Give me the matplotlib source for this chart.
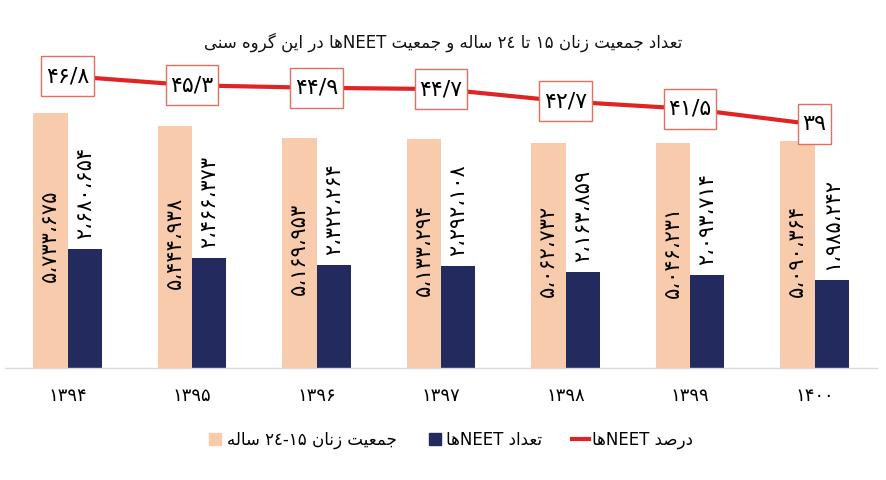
import matplotlib
matplotlib.use("Agg")
import matplotlib.pyplot as plt
from matplotlib.lines import Line2D
from matplotlib.path import Path

# ---------------- data ----------------
years = ["۱۳۹۴", "۱۳۹۵", "۱۳۹۶", "۱۳۹۷", "۱۳۹۸", "۱۳۹۹", "۱۴۰۰"]
women_15_24 = [5733675, 5444938, 5169953, 5133294, 5062732, 5046231, 5090364]
neet_count = [2680654, 2466373, 2322264, 2292108, 2163859, 2093714, 1985242]
neet_percent = [46.8, 45.3, 44.9, 44.7, 42.7, 41.5, 39]

title_text = "تعداد جمعیت زنان ۱۵ تا ۲٤ ساله و جمعیت NEETها در این گروه سنی"
label_women = "جمعیت زنان ۱۵-۲٤ ساله"
label_neet = "تعداد NEETها"
label_pct = "درصد NEETها"

# ---------------- minimal Arabic/Persian shaping ----------------
FORMS = {  # iso, fin, ini, med
    "ا": ("\uFE8D", "\uFE8E", None, None),
    "د": ("\uFEA9", "\uFEAA", None, None),
    "ر": ("\uFEAD", "\uFEAE", None, None),
    "ز": ("\uFEAF", "\uFEB0", None, None),
    "و": ("\uFEED", "\uFEEE", None, None),
    "ت": ("\uFE95", "\uFE96", "\uFE97", "\uFE98"),
    "ج": ("\uFE9D", "\uFE9E", "\uFE9F", "\uFEA0"),
    "س": ("\uFEB1", "\uFEB2", "\uFEB3", "\uFEB4"),
    "ص": ("\uFEB9", "\uFEBA", "\uFEBB", "\uFEBC"),
    "ع": ("\uFEC9", "\uFECA", "\uFECB", "\uFECC"),
    "ل": ("\uFEDD", "\uFEDE", "\uFEDF", "\uFEE0"),
    "م": ("\uFEE1", "\uFEE2", "\uFEE3", "\uFEE4"),
    "ن": ("\uFEE5", "\uFEE6", "\uFEE7", "\uFEE8"),
    "ه": ("\uFEE9", "\uFEEA", "\uFEEB", "\uFEEC"),
    "ی": ("\uFBFC", "\uFBFD", "\uFBFE", "\uFBFF"),
    "گ": ("\uFB92", "\uFB93", "\uFB94", "\uFB95"),
}


def is_dual(c):
    return c in FORMS and FORMS[c][2] is not None


def shape(s):
    out = []
    for i, c in enumerate(s):
        if c not in FORMS:
            out.append(c)
            continue
        prev = s[i - 1] if i > 0 else ""
        nxt = s[i + 1] if i + 1 < len(s) else ""
        jp = is_dual(prev)
        jn = is_dual(c) and (nxt in FORMS)
        iso, fin, ini, med = FORMS[c]
        if jp and jn:
            out.append(med)
        elif jp:
            out.append(fin)
        elif jn:
            out.append(ini)
        else:
            out.append(iso)
    return "".join(out)


def is_ltr(c):
    return (c.isascii() and c.isalnum()) or ("\u06F0" <= c <= "\u06F9") or ("\u0660" <= c <= "\u0669") or c in "/."


def rtl(s):
    sh = shape(s)
    runs = []
    for c in sh:
        l = is_ltr(c)
        if runs and runs[-1][0] == l:
            runs[-1][1].append(c)
        else:
            runs.append([l, [c]])
    vis = []
    for l, chars in reversed(runs):
        vis.append("".join(chars) if l else "".join(reversed(chars)))
    return "".join(vis)


PD = str.maketrans("0123456789", "۰۱۲۳۴۵۶۷۸۹")


def fa_int(v):
    return f"{v:,}".translate(PD).replace(",", "،")


def fa_pct(v):
    s = f"{v:g}".translate(PD)
    return s.replace(".", "/")


def tall_box(x0, y0, width, height, mutation_size):
    px = 0.2 * mutation_size
    py = 0.45 * mutation_size
    x0, y0 = x0 - px, y0 - py
    x1, y1 = x0 + width + 2 * px, y0 + height + 2 * py
    return Path([(x0, y0), (x1, y0), (x1, y1), (x0, y1), (x0, y0)],
                [Path.MOVETO, Path.LINETO, Path.LINETO, Path.LINETO, Path.CLOSEPOLY])


# ---------------- figure ----------------
plt.rcParams["font.family"] = ["DejaVu Sans"]
fig = plt.figure(figsize=(8.86, 4.8), dpi=100)
ax = fig.add_axes([5.25 / 886, (480 - 368) / 480, 871.5 / 886, 318 / 480])

peach = "#F8CBAD"
navy = "#222A5E"
red = "#E02424"

x = list(range(len(years)))
w = 0.277
ax.bar([i - w / 2 for i in x], women_15_24, width=w, color=peach, zorder=2)
ax.bar([i + w / 2 for i in x], neet_count, width=w, color=navy, zorder=2)
ax.set_xlim(-0.5, len(years) - 0.5)
ax.set_ylim(0, 7.141e6)

for i in x:
    ax.annotate(fa_int(women_15_24[i]), (i - w / 2, women_15_24[i] / 2),
                xytext=(0, 3), textcoords="offset points",
                rotation=90, ha="center", va="center", fontsize=15, color="black", zorder=4)
    ax.annotate(fa_int(neet_count[i]), (i + w / 2, neet_count[i]),
                xytext=(0, 7), textcoords="offset points",
                rotation=90, ha="center", va="bottom", fontsize=15, color="black", zorder=4)

for s in ["top", "right", "left"]:
    ax.spines[s].set_visible(False)
ax.spines["bottom"].set_color("#D9D9D9")
ax.spines["bottom"].set_linewidth(1.0)
ax.set_yticks([])
ax.set_xticks(x)
ax.set_xticklabels(years, fontsize=13)
ax.tick_params(axis="x", length=0, pad=14)

ax2 = ax.twinx()
ax2.set_ylim(-0.3, 51.0)
ax2.plot(x, neet_percent, color=red, linewidth=3, zorder=3)
for i in x:
    ax2.text(i, neet_percent[i], fa_pct(neet_percent[i]), ha="center", va="center",
             fontsize=16, color="black", zorder=5,
             bbox=dict(boxstyle=tall_box, facecolor="white", edgecolor="#E07060", linewidth=1))
ax2.set_yticks([])
for s in ["top", "right", "left", "bottom"]:
    ax2.spines[s].set_visible(False)

fig.text(443 / 886, 1 - 42 / 480, rtl(title_text), ha="center", va="center", fontsize=12, color="#111111")

handles = [
    Line2D([], [], marker="s", linestyle="none", markersize=8, color=peach, label=rtl(label_women)),
    Line2D([], [], marker="s", linestyle="none", markersize=8, color=navy, label=rtl(label_neet)),
    Line2D([], [], color=red, linewidth=3, label=rtl(label_pct)),
]
fig.legend(handles=handles, loc="center", bbox_to_anchor=(450 / 886, 1 - 440 / 480), ncol=3,
           frameon=False, fontsize=12, handlelength=1.0, handletextpad=0.2, columnspacing=1.8)

fig.savefig("out.png", dpi=100)
